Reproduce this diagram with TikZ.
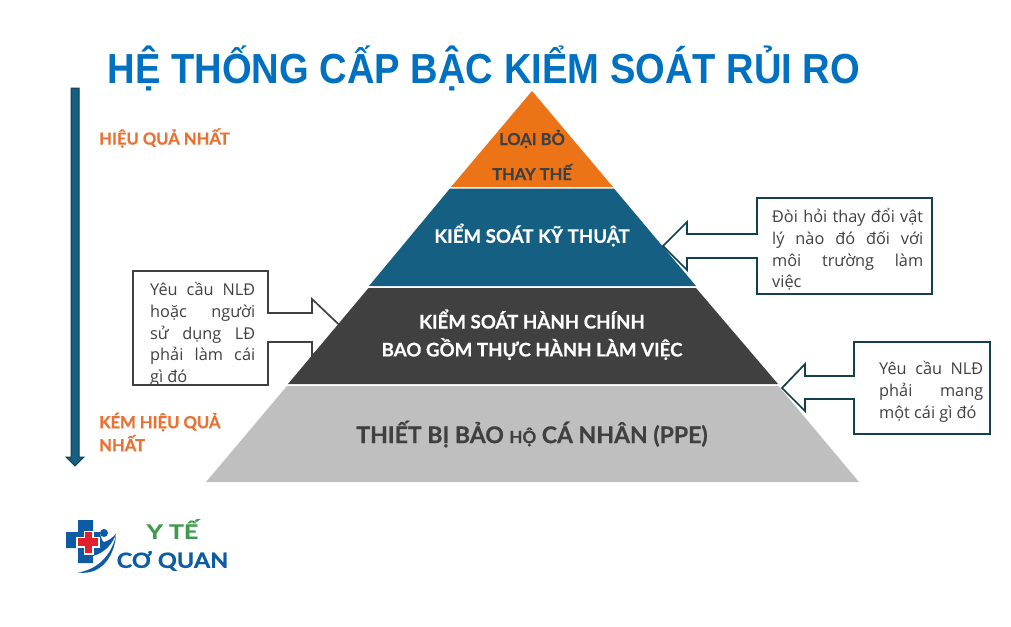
\documentclass[tikz,border=0pt]{standalone}
\usepackage{fontspec}
\setmainfont{Open Sans}
\newfontfamily\boldf{Lato}[UprightFont=* Bold,FakeBold=0.6]
\newfontfamily\ttlf{Liberation Sans}[UprightFont=* Bold]
\newfontfamily\plainf{Open Sans}
\definecolor{ttl}{HTML}{0070C0}
\definecolor{org}{HTML}{EC7417}
\definecolor{orgt}{HTML}{E97132}
\definecolor{teal}{HTML}{156082}
\definecolor{tealdk}{HTML}{12404F}
\definecolor{dk}{HTML}{404040}
\definecolor{gry}{HTML}{BFBFBF}
\definecolor{lgblue}{HTML}{0D5BA5}
\definecolor{lggreen}{HTML}{3F9A4B}
\definecolor{lgred}{HTML}{E21F2D}
\newcommand{\jl}[2]{\makebox[#1][s]{#2}}
\tikzset{
 lvl/.style={font=\boldf\fontsize{18.7}{20}\selectfont,inner sep=0pt,anchor=center},
 toplvl/.style={font=\boldf\fontsize{16.5}{20}\selectfont,inner sep=0pt,anchor=center},
 sidelbl/.style={font=\boldf\fontsize{16.6}{23}\selectfont,text=orgt,inner sep=0pt,anchor=west,align=left},
 calltxt/.style={font=\plainf\fontsize{16.3}{21.8}\selectfont,text=dk,inner sep=0pt,anchor=north west,align=left},
 callout/.style={draw=tealdk,line width=1.7pt,fill=white,line join=miter},
}
\begin{document}
\begin{tikzpicture}[x=1pt,y=-1pt]
\useasboundingbox (0,0) rectangle (1011,626);
\fill[white] (0,0) rectangle (1011,626);
\node[font=\ttlf\fontsize{42}{46}\selectfont,text=ttl,inner sep=0pt,xscale=0.908] (title) at (484,68) {HỆ THỐNG CẤP BẬC KIỂM SOÁT RỦI RO};
% left arrow
\draw[fill=teal,draw=tealdk,line width=1pt] (71,88) -- (79,88) -- (79,457) -- (84,457) -- (75,466) -- (66,457) -- (71,457) -- cycle;
\node[sidelbl] (best) at (99,138) {HIỆU QUẢ NHẤT};
\node[sidelbl] (worst) at (99,432) {KÉM HIỆU QUẢ\\NHẤT};
% left callout (under pyramid)
\draw[callout,draw=dk] (268,313) -- (268,271) -- (133,271) -- (133,385) -- (268,385) -- (268,342) -- (312,342) -- (312,356) -- (342,327.5) -- (312,299) -- (312,313) -- cycle;
\node[calltxt] (c1) at (150,282) {\jl{105pt}{Yêu cầu NLĐ}\\\jl{105pt}{hoặc người}\\\jl{105pt}{sử dụng LĐ}\\\jl{105pt}{phải làm cái}\\gì đó};
% pyramid
\fill[org] (532,91) -- (613,187) -- (451,187) -- cycle;
\fill[teal] (450,188.5) -- (614,188.5) -- (696,286) -- (369,286) -- cycle;
\fill[dk] (368.5,288) -- (696,288) -- (778,384) -- (288,384) -- cycle;
\fill[gry] (287,386) -- (778.5,386) -- (859,482) -- (206,482) -- cycle;
\node[toplvl,text=dk] (l1a) at (532,139) {LOẠI BỎ};
\node[toplvl,text=dk] (l1b) at (532,172) {THAY THẾ};
\node[lvl,text=white] (l2) at (532,235) {KIỂM SOÁT KỸ THUẬT};
\node[lvl,text=white] (l3a) at (532,319) {KIỂM SOÁT HÀNH CHÍNH};
\node[lvl,text=white] (l3b) at (532,349) {BAO GỒM THỰC HÀNH LÀM VIỆC};
\node[lvl,text=dk,font=\boldf\fontsize{23}{25}\selectfont] (l4) at (532,434) {THIẾT BỊ BẢO {\fontsize{17}{18}\selectfont HỘ} CÁ NHÂN (PPE)};
% right callouts
\draw[callout] (757,234) -- (757,198) -- (932,198) -- (932,294) -- (757,294) -- (757,258) -- (687,258) -- (687,270) -- (663,246) -- (687,222) -- (687,234) -- cycle;
\node[calltxt] (c2) at (772,208) {\jl{151pt}{Đòi hỏi thay đổi vật}\\\jl{151pt}{lý nào đó đối với}\\\jl{151pt}{môi trường làm}\\việc};
\draw[callout] (854,376) -- (854,342) -- (990,342) -- (990,434) -- (854,434) -- (854,399) -- (805,399) -- (805,411) -- (782,388) -- (805,364) -- (805,376) -- cycle;
\node[calltxt] (c3) at (879,361) {\jl{104pt}{Yêu cầu NLĐ}\\\jl{104pt}{phải mang}\\một cái gì đó};
% logo
\fill[lgblue] (78,520) -- (93,520) -- (93,532) -- (100,532) .. controls (101,538) and (102,541) .. (104,542) .. controls (108,541) and (112,538) .. (116,534) .. controls (112,545) and (104,553) .. (93,556) -- (93,563) -- (78,563) -- (78,548) -- (66,548) -- (66,532) -- (78,532) -- cycle;
\fill[white] (83.5,530.5) rectangle (93.5,555);
\fill[white] (76,536.5) rectangle (100,548);
\fill[lgred] (85,532) rectangle (92,553);
\fill[lgred] (78,538) rectangle (98,546);
\fill[lgblue] (78,572.5) .. controls (95,570) and (111,558) .. (116,535) .. controls (115,552) and (104,576) .. (78,572.5) -- cycle;
\fill[lgblue] (104,533) circle (4);
\node[font=\boldf\fontsize{20}{20}\selectfont,text=lggreen,inner sep=0pt,xscale=1.25] (lg1) at (172.5,529) {Y TẾ};
\node[font=\boldf\fontsize{21}{22}\selectfont,text=lgblue,inner sep=0pt,xscale=1.12] (lg2) at (172.5,561) {CƠ QUAN};
\end{tikzpicture}
\end{document}
